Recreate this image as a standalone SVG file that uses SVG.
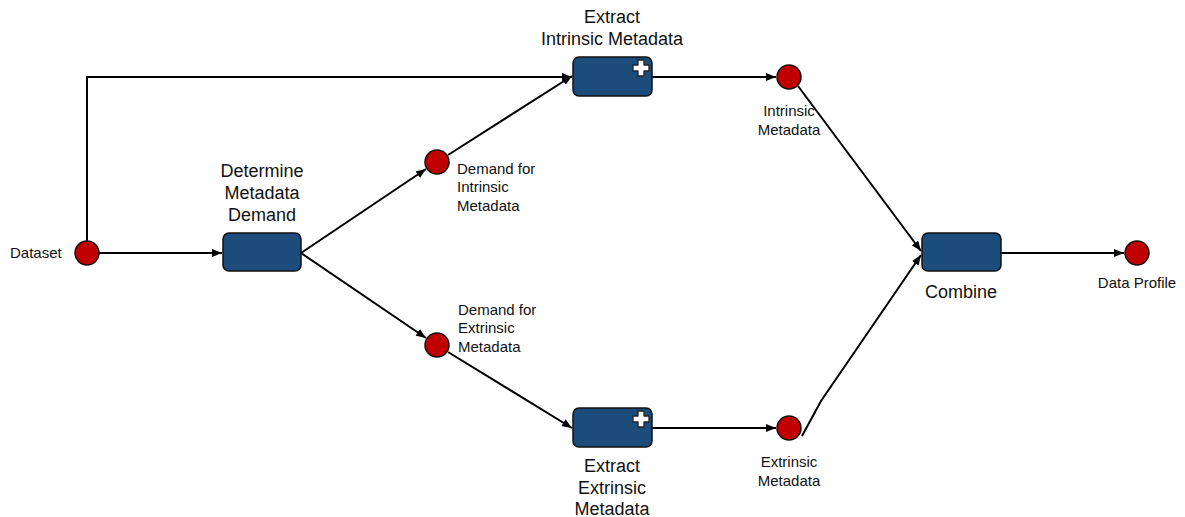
<svg xmlns="http://www.w3.org/2000/svg" width="1185" height="517" viewBox="0 0 1185 517">
  <defs>
    <marker id="arrow" markerWidth="10" markerHeight="8" refX="10" refY="4" orient="auto" markerUnits="userSpaceOnUse">
      <path d="M0,0 L10,4 L0,8 z" fill="#000"/>
    </marker>
    <g id="plus">
      <path d="M-3,-8 h6 v5 h5 v6 h-5 v5 h-6 v-5 h-5 v-6 h5 z" fill="#fff" stroke="#222" stroke-width="1.3" stroke-linejoin="round"/>
    </g>
  </defs>
  <style>
    .task { fill: #1c4c7c; stroke: #111; stroke-width: 1.5; }
    .event { fill: #c00000; stroke: #111; stroke-width: 1.5; }
    .edge { fill: none; stroke: #000; stroke-width: 2; }
    .big { font-family: "Liberation Sans", Arial, sans-serif; font-size: 18px; fill: #111; text-anchor: middle; }
    .small { font-family: "Liberation Sans", Arial, sans-serif; font-size: 15px; fill: #111; }
  </style>
  <rect width="1185" height="517" fill="#fff"/>

  <g id="connectors">
    <polyline class="edge" points="87,241 87,77 572,77" marker-end="url(#arrow)"/>
    <line class="edge" x1="99" y1="253" x2="222" y2="253" marker-end="url(#arrow)"/>
    <line class="edge" x1="301" y1="253" x2="426" y2="169" marker-end="url(#arrow)"/>
    <line class="edge" x1="301" y1="253" x2="426" y2="338" marker-end="url(#arrow)"/>
    <line class="edge" x1="448" y1="155" x2="572" y2="76" marker-end="url(#arrow)"/>
    <line class="edge" x1="448" y1="352" x2="572" y2="428" marker-end="url(#arrow)"/>
    <line class="edge" x1="652" y1="77" x2="776" y2="77" marker-end="url(#arrow)"/>
    <line class="edge" x1="652" y1="428" x2="776" y2="428" marker-end="url(#arrow)"/>
    <line class="edge" x1="798" y1="86" x2="921" y2="251" marker-end="url(#arrow)"/>
    <polyline class="edge" points="802,436 821,401 921,255" marker-end="url(#arrow)"/>
    <line class="edge" x1="1001" y1="253" x2="1124" y2="253" marker-end="url(#arrow)"/>
  </g>

  <g id="dataset">
    <circle class="event" cx="87" cy="253" r="12"/>
    <text class="small" x="10" y="258">Dataset</text>
  </g>

  <g id="determine-metadata-demand">
    <rect class="task" x="223" y="233" width="78" height="38" rx="6"/>
    <text class="big" x="262" y="177">Determine</text>
    <text class="big" x="262" y="199">Metadata</text>
    <text class="big" x="262" y="221">Demand</text>
  </g>

  <g id="demand-intrinsic">
    <circle class="event" cx="437" cy="162" r="12"/>
    <text class="small" x="457" y="174">Demand for</text>
    <text class="small" x="457" y="192">Intrinsic</text>
    <text class="small" x="457" y="211">Metadata</text>
  </g>

  <g id="demand-extrinsic">
    <circle class="event" cx="437" cy="345" r="12"/>
    <text class="small" x="458" y="315">Demand for</text>
    <text class="small" x="458" y="333">Extrinsic</text>
    <text class="small" x="458" y="352">Metadata</text>
  </g>

  <g id="extract-intrinsic">
    <rect class="task" x="573" y="57" width="79" height="39" rx="6"/>
    <use href="#plus" x="641" y="68"/>
    <text class="big" x="612" y="23">Extract</text>
    <text class="big" x="612" y="45">Intrinsic Metadata</text>
  </g>

  <g id="extract-extrinsic">
    <rect class="task" x="573" y="408" width="79" height="39" rx="6"/>
    <use href="#plus" x="641" y="419"/>
    <text class="big" x="612" y="472">Extract</text>
    <text class="big" x="612" y="494">Extrinsic</text>
    <text class="big" x="612" y="515">Metadata</text>
  </g>

  <g id="intrinsic-metadata">
    <circle class="event" cx="789" cy="77" r="12"/>
    <text class="small" x="789" y="116" text-anchor="middle">Intrinsic</text>
    <text class="small" x="789" y="135" text-anchor="middle">Metadata</text>
  </g>

  <g id="extrinsic-metadata">
    <circle class="event" cx="789" cy="428" r="12"/>
    <text class="small" x="789" y="467" text-anchor="middle">Extrinsic</text>
    <text class="small" x="789" y="486" text-anchor="middle">Metadata</text>
  </g>

  <g id="combine">
    <rect class="task" x="922" y="233" width="79" height="38" rx="6"/>
    <text class="big" x="961" y="298">Combine</text>
  </g>

  <g id="data-profile">
    <circle class="event" cx="1137" cy="253" r="12"/>
    <text class="small" x="1137" y="288" text-anchor="middle">Data Profile</text>
  </g>
</svg>
